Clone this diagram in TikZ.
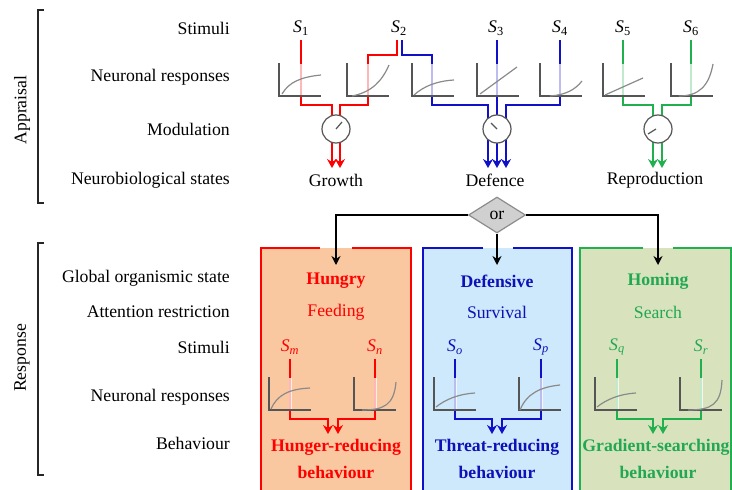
\documentclass[tikz,border=0pt]{standalone}
\usepackage{fontspec}
\setmainfont{Liberation Serif}
\usetikzlibrary{arrows.meta,shapes.geometric}
\definecolor{cred}{HTML}{FF0000}
\definecolor{cblue}{HTML}{1010C8}
\definecolor{cgreen}{HTML}{20B04E}
\definecolor{tblue}{HTML}{1010B8}
\definecolor{tgreen}{HTML}{22A852}
\definecolor{fred}{HTML}{FAC8A0}
\definecolor{fblue}{HTML}{CDE9FB}
\definecolor{fgreen}{HTML}{D8E3BE}
\definecolor{axgray}{HTML}{555555}
\definecolor{crvgray}{HTML}{8A8A8A}
\definecolor{dgray}{HTML}{D0D0D0}
\definecolor{egray}{HTML}{8C8C8C}
\newcommand\fs{\fontsize{17.7pt}{20pt}\selectfont}
\newcommand\rplot[3]{\begin{scope}[shift={(#1,#2)}]\draw[ax] (0,-33) -- (0,0) -- (42,0); \draw[crv] #3;\end{scope}}
\newcommand\fadeseg[3]{\draw[white, line width=3pt, opacity=0.72] (#1,#2) -- (#1,#3);}
\newcommand\stim[2]{{\itshape S}\textsubscript{#1}}
\tikzset{
  lbl/.style={anchor=east, inner sep=0pt},
  sig/.style={line width=2.4pt, line join=miter},
  sarrow/.style={line width=2.4pt, -{Stealth[length=9pt,width=10pt,inset=3pt]}},
  barrow/.style={line width=1.8pt, -{Stealth[length=9pt,width=9pt,inset=3pt]}},
  ax/.style={draw=axgray, line width=1.3pt},
  crv/.style={draw=crvgray, line width=1.2pt},
  dial/.style={circle, draw=axgray, line width=1.2pt, fill=white, minimum size=28pt, inner sep=0pt},
  needle/.style={draw=axgray, line width=1.2pt},
  bracket/.style={draw=black!85, line width=1.3pt},
  boxline/.style={line width=2pt},
}
\begin{document}
\begin{tikzpicture}[x=1pt,y=-1pt,font=\fs]
\useasboundingbox (0,0) rectangle (732,490);
% ---------- left column ----------
\draw[bracket] (44,10) -- (38,10) -- (38,203) -- (44,203);
\draw[bracket] (44,243) -- (38,243) -- (38,475) -- (44,475);
\node[rotate=90] (appraisal) at (22,110) {Appraisal};
\node[rotate=90] (response) at (22,358) {Response};
\node[lbl] (l1) at (230,28) {Stimuli};
\node[lbl] (l2) at (230,77) {Neuronal responses};
\node[lbl] (l3) at (230,129) {Modulation};
\node[lbl] (l4) at (230,180) {Neurobiological states};
\node[lbl] (l5) at (230,278) {Global organismic state};
\node[lbl] (l6) at (230,312) {Attention restriction};
\node[lbl] (l7) at (230,347) {Stimuli};
\node[lbl] (l8) at (230,397) {Neuronal responses};
\node[lbl] (l9) at (230,443) {Behaviour};
% ---------- response boxes ----------
\fill[fred] (261,248) rectangle (411,492);
\fill[fblue] (423,248) rectangle (572,492);
\fill[fgreen] (580,248) rectangle (731,492);
\draw[boxline,cred] (320,248) -- (261,248) -- (261,492);
\draw[boxline,cred] (352,248) -- (411,248) -- (411,492);
\draw[boxline,cblue] (483,248) -- (423,248) -- (423,492);
\draw[boxline,cblue] (513,248) -- (572,248) -- (572,492);
\draw[boxline,cgreen] (643,248) -- (580,248) -- (580,492);
\draw[boxline,cgreen] (673,248) -- (731,248) -- (731,492);
% ---------- top stimuli ----------
\node (s1) at (301,28) {\stim{1}{}};
\node (s2) at (399,28) {\stim{2}{}};
\node (s3) at (496,28) {\stim{3}{}};
\node (s4) at (560,28) {\stim{4}{}};
\node (s5) at (623,28) {\stim{5}{}};
\node (s6) at (691,28) {\stim{6}{}};
\coordinate (t1) at (301,40);
\coordinate (t2r) at (397,40);
\coordinate (t2b) at (402,40);
\coordinate (t3) at (497,40);
\coordinate (t4) at (560,40);
\coordinate (t5) at (623,40);
\coordinate (t6) at (691,40);
\draw[sig,cred] (t1) -- (301,105) -- (332,105) -- (332,120);
\draw[sig,cred] (t2r) -- (397,55) -- (368,55) -- (368,105) -- (340,105) -- (340,120);
\draw[sig,cblue] (t2b) -- (402,55) -- (432,55) -- (432,105) -- (488,105) -- (488,120);
\draw[sig,cblue] (t3) -- (497,120);
\draw[sig,cblue] (t4) -- (560,105) -- (506,105) -- (506,120);
\draw[sig,cgreen] (t5) -- (623,105) -- (653,105) -- (653,120);
\draw[sig,cgreen] (t6) -- (691,105) -- (662,105) -- (662,120);
\fadeseg{301}{64}{95}
\fadeseg{368}{64}{95}
\fadeseg{432}{64}{95}
\fadeseg{497}{64}{95}
\fadeseg{560}{64}{95}
\fadeseg{623}{64}{95}
\fadeseg{691}{64}{95}
\rplot{279}{96}{(3,-2) .. controls (10,-14) and (22,-19) .. (42,-21)}
\rplot{347}{96}{(5,0) .. controls (25,-4) and (35,-15) .. (42,-31)}
\rplot{412}{96}{(2,-1) .. controls (12,-10) and (25,-15) .. (42,-16)}
\rplot{477}{96}{(3,-2) -- (40,-29)}
\rplot{540}{96}{(10,0) .. controls (25,-1) and (35,-6) .. (42,-15)}
\rplot{603}{96}{(2,-1) -- (40,-18)}
\rplot{671}{96}{(8,0) .. controls (28,0) and (38,-10) .. (42,-32)}
% ---------- modulation ----------
\draw[sarrow,cred] (332,138) -- (332,168);
\draw[sarrow,cred] (340,138) -- (340,168);
\draw[sarrow,cblue] (488,136) -- (488,168);
\draw[sarrow,cblue] (497,138) -- (497,168);
\draw[sarrow,cblue] (506,136) -- (506,168);
\draw[sarrow,cgreen] (653,138) -- (653,168);
\draw[sarrow,cgreen] (662,138) -- (662,168);
\node[dial] (m1) at (336,129) {};
\node[dial] (m2) at (497,129) {};
\node[dial] (m3) at (658,129) {};
\draw[needle] (m1.center) -- ++(6,-7);
\draw[needle] (m2.center) -- ++(-6,-6);
\draw[needle] ([xshift=-2pt]m3.center) -- ++(-8,5);
\node (growth) at (336,180) {Growth};
\node (defence) at (495,180) {Defence};
\node (repro) at (655,180) {Reproduction};
% ---------- or ----------
\node[diamond, draw=egray, fill=dgray, line width=1.2pt, minimum width=57pt, minimum height=36pt, inner sep=0pt] (or) at (497,215) {or};
\coordinate (e1) at (336,265);
\coordinate (e2) at (497,265);
\coordinate (e3) at (658,265);
\draw[barrow] (or.west) -| (e1);
\draw[barrow] (or.south) -- (e2);
\draw[barrow] (or.east) -| (e3);
% ---------- box texts ----------
\node[text=cred, font=\fs\bfseries] (hungry) at (336,281) {Hungry};
\node[text=cred] (feeding) at (336,312) {Feeding};
\node[text=tblue, font=\fs\bfseries] (defensive) at (497,281) {Defensive};
\node[text=tblue] (survival) at (497,312) {Survival};
\node[text=tgreen, font=\fs\bfseries] (homing) at (658,281) {Homing};
\node[text=tgreen] (search) at (658,312) {Search};
\node[text=cred] (sm) at (290,347) {{\itshape S}\textsubscript{\itshape m}};
\node[text=cred] (sn) at (375,347) {{\itshape S}\textsubscript{\itshape n}};
\node[text=tblue] (so) at (455,347) {{\itshape S}\textsubscript{\itshape o}};
\node[text=tblue] (sp) at (541,347) {{\itshape S}\textsubscript{\itshape p}};
\node[text=tgreen] (sq) at (617,347) {{\itshape S}\textsubscript{\itshape q}};
\node[text=tgreen] (sr) at (701,347) {{\itshape S}\textsubscript{\itshape r}};
\coordinate (um) at (290,359);
\coordinate (un) at (375,359);
\coordinate (uo) at (455,359);
\coordinate (up) at (541,359);
\coordinate (uq) at (617,359);
\coordinate (ur) at (701,359);
\draw[sarrow,cred] (um) -- (290,419) -- (328,419) -- (328,434);
\draw[sarrow,cred] (un) -- (375,419) -- (338,419) -- (338,434);
\draw[sarrow,cblue] (uo) -- (455,419) -- (492,419) -- (492,434);
\draw[sarrow,cblue] (up) -- (541,419) -- (502,419) -- (502,434);
\draw[sarrow,cgreen] (uq) -- (617,419) -- (653,419) -- (653,434);
\draw[sarrow,cgreen] (ur) -- (701,419) -- (663,419) -- (663,434);
\fadeseg{290}{378}{409}
\fadeseg{375}{378}{409}
\fadeseg{455}{378}{409}
\fadeseg{541}{378}{409}
\fadeseg{617}{378}{409}
\fadeseg{701}{378}{409}
\rplot{269}{410}{(2,-1) .. controls (8,-15) and (20,-21) .. (41,-22)}
\rplot{354}{410}{(8,0) .. controls (30,0) and (40,-5) .. (42,-28)}
\rplot{434}{410}{(2,-3) .. controls (12,-11) and (25,-16) .. (41,-17)}
\rplot{519}{410}{(1,0) .. controls (8,-17) and (22,-23) .. (41,-25)}
\rplot{595}{410}{(2,-3) .. controls (12,-11) and (25,-16) .. (41,-17)}
\rplot{680}{410}{(8,0) .. controls (32,0) and (41,-6) .. (42,-30)}
\node[text=cred, font=\fs\bfseries] (hr1) at (336,447) {Hunger-reducing};
\node[text=cred, font=\fs\bfseries] (hr2) at (336,472) {behaviour};
\node[text=tblue, font=\fs\bfseries] (tr1) at (497,447) {Threat-reducing};
\node[text=tblue, font=\fs\bfseries] (tr2) at (497,472) {behaviour};
\node[text=tgreen, font=\fs\bfseries] (gs1) at (656,447) {Gradient-searching};
\node[text=tgreen, font=\fs\bfseries] (gs2) at (658,472) {behaviour};
\end{tikzpicture}
\end{document}
